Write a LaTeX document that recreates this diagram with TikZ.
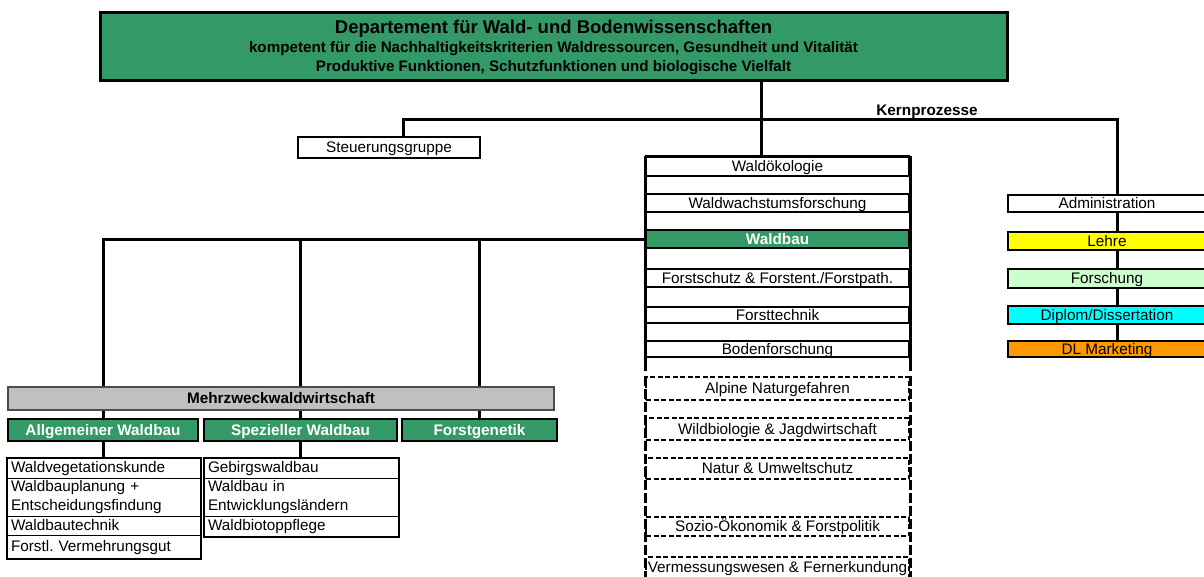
\documentclass[tikz,border=0pt]{standalone}
\usepackage{fontspec}
\setmainfont{Liberation Sans}
\usetikzlibrary{positioning}
\definecolor{wsgreen}{HTML}{339966}
\definecolor{wsgray}{HTML}{C0C0C0}
\definecolor{wsyellow}{HTML}{FFFF00}
\definecolor{wslight}{HTML}{CCFFCC}
\definecolor{wscyan}{HTML}{00FFFF}
\definecolor{wsorange}{HTML}{FF9900}
\newcommand\wsbox{\fontsize{15.3}{19}\selectfont}
\newcommand\wsbold{\fontsize{15.3}{19}\selectfont\bfseries}
\newcommand\wstitle{\fontsize{18.5}{21}\selectfont\bfseries}
\newcommand\wssub{\fontsize{15.2}{19}\selectfont\bfseries}
\pgfdeclarelayer{bg}
\pgfsetlayers{bg,main}
\tikzset{
  box/.style={draw, fill=white, line width=2pt, inner sep=0pt, font=\wsbox,
    text height=12pt, text depth=2pt, align=center},
  rowbox/.style={box, minimum width=263pt},
  dashrow/.style={rowbox, dash pattern=on 5pt off 2.5pt},
  kernbox/.style={box, minimum width=198pt},
  unitbox/.style={box, fill=wsgreen, text=white, font=\wsbold, minimum height=22pt},
  listrow/.style={draw, line width=1pt, inner xsep=4pt, inner ysep=0pt, font=\wsbox,
    align=left, text height=12pt, text depth=3pt},
  plain/.style={inner sep=0pt, text height=12pt, text depth=2pt},
  link/.style={line width=3pt},
  frameside/.style={line width=3pt},
  dashside/.style={line width=3pt, dash pattern=on 10pt off 3pt},
}
\begin{document}
\begin{tikzpicture}[x=1pt, y=-1pt]
\useasboundingbox (0,0) rectangle (1204,576);
% Department
\node[box, fill=wsgreen, line width=3pt, minimum width=907pt, minimum height=68pt] (dept) at (553.5,46) {};
\node[plain, font=\wstitle, text height=15.5pt, text depth=2.5pt] (depttitle) at (553.5,27) {Departement für Wald- und Bodenwissenschaften};
\node[plain, font=\wssub] (deptsuba) at (553.5,47) {kompetent für die Nachhaltigkeitskriterien Waldressourcen, Gesundheit und Vitalität};
\node[plain, font=\wssub] (deptsubb) at (553.5,66) {Produktive Funktionen, Schutzfunktionen und biologische Vielfalt};

% Branch points
\coordinate (kernl) at (403,119);
\coordinate (kernm) at (761,119);
\coordinate (kernr) at (1117,119);
\node[plain, font=\wsbold] (kernlabel) at (927,110) {Kernprozesse};

\node[box, minimum width=182pt, minimum height=21pt] (steuer) at (389,147.5) {Steuerungsgruppe};

% Institute column
\node[rowbox, minimum height=19pt] (waldoek) at (777.5,166.5) {Waldökologie};
\node[rowbox, minimum height=18pt] (wachstum) at (777.5,203) {Waldwachstumsforschung};
\node[rowbox, minimum height=18pt, fill=wsgreen, text=white, font=\wsbold] (waldbau) at (777.5,239) {Waldbau};
\node[rowbox, minimum height=18pt] (forstschutz) at (777.5,278) {Forstschutz \& Forstent./Forstpath.};
\node[rowbox, minimum height=16pt] (forsttechnik) at (777.5,315) {Forsttechnik};
\node[rowbox, minimum height=16pt] (boden) at (777.5,349) {Bodenforschung};
\coordinate (solidend) at (777.5,371);
\draw[frameside] (waldoek.north west) -- (waldoek.north east);
\draw[frameside] (waldoek.north west) -- (waldoek.west |- solidend);
\draw[frameside] (waldoek.north east) -- (waldoek.east |- solidend);

\node[dashrow, minimum height=23pt] (alpine) at (777.5,388.5) {Alpine Naturgefahren};
\node[dashrow, minimum height=22pt] (wild) at (777.5,429) {Wildbiologie \& Jagdwirtschaft};
\node[dashrow, minimum height=21pt] (natur) at (777.5,468.5) {Natur \& Umweltschutz};
\node[dashrow, minimum height=19pt] (sozio) at (777.5,526.5) {Sozio-Ökonomik \& Forstpolitik};
\node[dashrow, minimum height=21pt] (verm) at (777.5,567.5) {Vermessungswesen \& Fernerkundung};
\coordinate (dashend) at (777.5,578);
\draw[dashside] (alpine.north west) -- (alpine.west |- dashend);
\draw[dashside] (alpine.north east) -- (alpine.east |- dashend);

% Core processes
\node[kernbox, minimum height=17pt] (admin) at (1107,203.5) {Administration};
\node[kernbox, minimum height=18pt, fill=wsyellow] (lehre) at (1107,241) {Lehre};
\node[kernbox, minimum height=19pt, fill=wslight] (forschung) at (1107,278.5) {Forschung};
\node[kernbox, minimum height=18pt, fill=wscyan] (diplom) at (1107,315) {Diplom/Dissertation};
\node[kernbox, minimum height=16pt, fill=wsorange] (dlm) at (1107,349) {DL Marketing};

% Waldbau units
\node[box, fill=wsgray, line width=1.2pt, draw=black!70, font=\wsbold, minimum width=546pt, minimum height=23pt] (mehrzweck) at (281,398.5) {Mehrzweckwaldwirtschaft};
\node[unitbox, minimum width=190pt] (allg) at (103,430) {Allgemeiner Waldbau};
\node[unitbox, minimum width=193pt] (spez) at (300.5,430) {Spezieller Waldbau};
\node[unitbox, minimum width=155pt] (fgen) at (479.5,430) {Forstgenetik};

\node[listrow, text width=185pt, minimum height=20pt] (vegk) at (103.5,468) {Waldvegetationskunde};
\node[listrow, text width=185pt, minimum height=38pt, text height={}, text depth={}] (planung) at (103.5,497) {Waldbauplanung +\\Entscheidungsfindung};
\node[listrow, text width=185pt, minimum height=19pt] (technik) at (103.5,525.5) {Waldbautechnik};
\node[listrow, text width=185pt, minimum height=23pt] (vermehr) at (103.5,546.5) {Forstl.\ Vermehrungsgut};
\draw[line width=2pt] (vegk.north west) rectangle (vermehr.south east);

\node[listrow, text width=186pt, minimum height=20pt] (gebirg) at (301,468) {Gebirgswaldbau};
\node[listrow, text width=186pt, minimum height=38pt, text height={}, text depth={}] (entw) at (301,497) {Waldbau in\\Entwicklungsländern};
\node[listrow, text width=186pt, minimum height=20pt] (biotop) at (301,526) {Waldbiotoppflege};
\draw[line width=2pt] (gebirg.north west) rectangle (biotop.south east);

% Connectors
\begin{pgfonlayer}{bg}
\draw[link] (dept.south -| kernm) -- (waldoek.north -| kernm);
\draw[link] (steuer.north -| kernl) |- (kernr) -- (dlm.north -| kernr);
\draw[link] (waldbau.west) -| (allg.north);
\draw[link] (waldbau.west) -| (spez.north);
\draw[link] (waldbau.west) -| (fgen.north);
\draw[link] (allg.south) -- (allg.south |- vegk.north);
\draw[link] (spez.south) -- (spez.south |- gebirg.north);
\end{pgfonlayer}
\end{tikzpicture}
\end{document}
